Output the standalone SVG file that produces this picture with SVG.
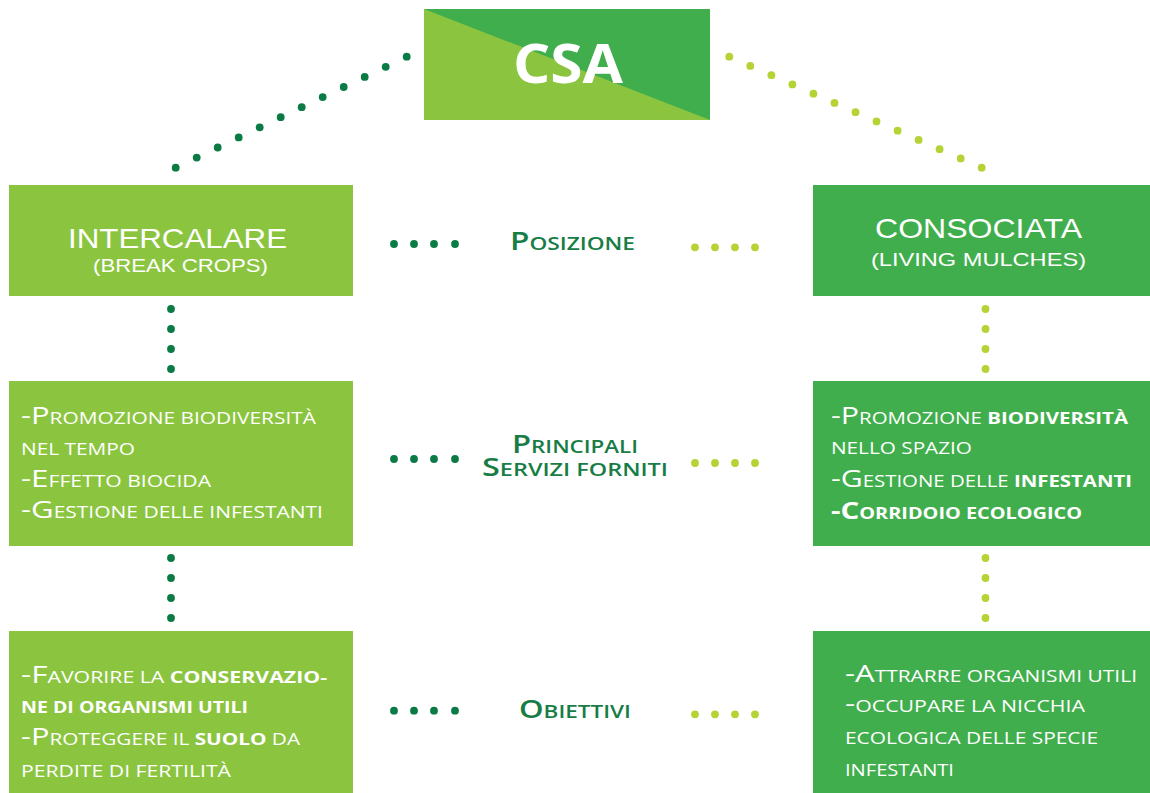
<svg xmlns="http://www.w3.org/2000/svg" width="1150" height="793" viewBox="0 0 1150 793">
<style>
.lg{fill:#8BC540}
.dg{fill:#41AE4D}
.dd{fill:#0B7B45}
.ld{fill:#B5D334}
.t{font-family:"Open Sans","Liberation Sans",sans-serif;fill:#fff}
.hd{font-family:"Liberation Sans","Open Sans",sans-serif;fill:#fff}
.b{font-size:23px}
.s{font-size:15.5px}
.bd{font-weight:bold}
.h1{font-size:28.5px}
.h2{font-size:19px}
.m{font-family:"Open Sans","Liberation Sans",sans-serif;fill:#177D45;font-weight:600}
.mb{font-size:25px}
.ms{font-size:18px}
</style>
<rect width="1150" height="793" fill="#fff"/>
<g id="connectors">
  <g class="dd">
    <circle cx="175.7" cy="167.7" r="3.9"/><circle cx="196.7" cy="157.6" r="3.9"/><circle cx="217.7" cy="147.5" r="3.9"/><circle cx="238.7" cy="137.4" r="3.9"/><circle cx="259.7" cy="127.3" r="3.9"/><circle cx="280.7" cy="117.2" r="3.9"/><circle cx="301.7" cy="107.2" r="3.9"/><circle cx="322.7" cy="97.1" r="3.9"/><circle cx="343.7" cy="87" r="3.9"/><circle cx="364.7" cy="76.9" r="3.9"/><circle cx="385.7" cy="66.8" r="3.9"/><circle cx="406.7" cy="56.7" r="3.9"/>
    <circle cx="171" cy="309" r="3.9"/><circle cx="171" cy="329" r="3.9"/><circle cx="171" cy="349" r="3.9"/><circle cx="171" cy="369" r="3.9"/>
    <circle cx="171" cy="558" r="3.9"/><circle cx="171" cy="578" r="3.9"/><circle cx="171" cy="598" r="3.9"/><circle cx="171" cy="618" r="3.9"/>
    <circle cx="394" cy="244" r="3.9"/><circle cx="414" cy="244" r="3.9"/><circle cx="434" cy="244" r="3.9"/><circle cx="455" cy="244" r="3.9"/>
    <circle cx="394" cy="459" r="3.9"/><circle cx="414" cy="459" r="3.9"/><circle cx="434" cy="459" r="3.9"/><circle cx="455" cy="459" r="3.9"/>
    <circle cx="394" cy="710.7" r="3.9"/><circle cx="414" cy="710.7" r="3.9"/><circle cx="434" cy="710.7" r="3.9"/><circle cx="455" cy="710.7" r="3.9"/>
  </g>
  <g class="ld">
    <circle cx="729.3" cy="56.7" r="3.9"/><circle cx="750.3" cy="65.9" r="3.9"/><circle cx="771.4" cy="75.2" r="3.9"/><circle cx="792.4" cy="84.4" r="3.9"/><circle cx="813.4" cy="93.7" r="3.9"/><circle cx="834.5" cy="102.9" r="3.9"/><circle cx="855.5" cy="112.2" r="3.9"/><circle cx="876.5" cy="121.4" r="3.9"/><circle cx="897.6" cy="130.7" r="3.9"/><circle cx="918.6" cy="139.9" r="3.9"/><circle cx="939.6" cy="149.2" r="3.9"/><circle cx="960.7" cy="158.4" r="3.9"/><circle cx="981.7" cy="167.7" r="3.9"/>
    <circle cx="985.5" cy="309" r="3.9"/><circle cx="985.5" cy="329" r="3.9"/><circle cx="985.5" cy="349" r="3.9"/><circle cx="985.5" cy="369" r="3.9"/>
    <circle cx="985.5" cy="558" r="3.9"/><circle cx="985.5" cy="578" r="3.9"/><circle cx="985.5" cy="598" r="3.9"/><circle cx="985.5" cy="618" r="3.9"/>
    <circle cx="695" cy="247.3" r="3.9"/><circle cx="715" cy="247.3" r="3.9"/><circle cx="735" cy="247.3" r="3.9"/><circle cx="755" cy="247.3" r="3.9"/>
    <circle cx="695" cy="463" r="3.9"/><circle cx="715" cy="463" r="3.9"/><circle cx="735" cy="463" r="3.9"/><circle cx="755" cy="463" r="3.9"/>
    <circle cx="695" cy="714.3" r="3.9"/><circle cx="715" cy="714.3" r="3.9"/><circle cx="735" cy="714.3" r="3.9"/><circle cx="755" cy="714.3" r="3.9"/>
  </g>
</g>
<g id="csa">
  <rect x="424" y="9" width="286" height="111" class="lg"/>
  <polygon points="424,9 710,9 710,120" class="dg"/>
  <text x="513" y="83" class="t bd" font-size="53" textLength="110" lengthAdjust="spacingAndGlyphs">CSA</text>
</g>
<g id="intercalare">
  <rect x="9" y="185" width="344" height="111" class="lg"/>
  <text x="68" y="247.5" class="hd h1" textLength="219" lengthAdjust="spacingAndGlyphs">INTERCALARE</text>
  <text x="93" y="272" class="hd h2" textLength="175" lengthAdjust="spacingAndGlyphs">(BREAK CROPS)</text>
</g>
<g id="consociata">
  <rect x="813" y="185" width="337" height="111" class="dg"/>
  <text x="875" y="238" class="hd h1" textLength="207" lengthAdjust="spacingAndGlyphs">CONSOCIATA</text>
  <text x="871" y="266" class="hd h2" textLength="215" lengthAdjust="spacingAndGlyphs">(LIVING MULCHES)</text>
</g>
<g id="servizi-intercalare">
  <rect x="9" y="381" width="344" height="165" class="lg"/>
  <text x="21" y="424" class="t" textLength="295" lengthAdjust="spacingAndGlyphs"><tspan class="b">-P</tspan><tspan class="s">ROMOZIONE BIODIVERSITÀ</tspan></text>
  <text x="21" y="455" class="t s" textLength="114" lengthAdjust="spacingAndGlyphs">NEL TEMPO</text>
  <text x="21" y="487" class="t" textLength="190" lengthAdjust="spacingAndGlyphs"><tspan class="b">-E</tspan><tspan class="s">FFETTO BIOCIDA</tspan></text>
  <text x="21" y="518" class="t" textLength="302" lengthAdjust="spacingAndGlyphs"><tspan class="b">-G</tspan><tspan class="s">ESTIONE DELLE INFESTANTI</tspan></text>
</g>
<g id="servizi-consociata">
  <rect x="813" y="381" width="337" height="165" class="dg"/>
  <text x="831" y="424" class="t" textLength="297" lengthAdjust="spacingAndGlyphs"><tspan class="b">-P</tspan><tspan class="s">ROMOZIONE </tspan><tspan class="s bd">BIODIVERSITÀ</tspan></text>
  <text x="831" y="454" class="t s" textLength="141" lengthAdjust="spacingAndGlyphs">NELLO SPAZIO</text>
  <text x="831" y="487" class="t" textLength="301" lengthAdjust="spacingAndGlyphs"><tspan class="b">-G</tspan><tspan class="s">ESTIONE DELLE </tspan><tspan class="s bd">INFESTANTI</tspan></text>
  <text x="831" y="519" class="t bd" textLength="251" lengthAdjust="spacingAndGlyphs"><tspan class="b">-C</tspan><tspan class="s">ORRIDOIO ECOLOGICO</tspan></text>
</g>
<g id="obiettivi-intercalare">
  <rect x="9" y="631" width="344" height="162" class="lg"/>
  <text x="21" y="683" class="t" textLength="306" lengthAdjust="spacingAndGlyphs"><tspan class="b">-F</tspan><tspan class="s">AVORIRE LA </tspan><tspan class="s bd">CONSERVAZIO-</tspan></text>
  <text x="21" y="713" class="t s bd" textLength="227" lengthAdjust="spacingAndGlyphs">NE DI ORGANISMI UTILI</text>
  <text x="21" y="745" class="t" textLength="279" lengthAdjust="spacingAndGlyphs"><tspan class="b">-P</tspan><tspan class="s">ROTEGGERE IL </tspan><tspan class="s bd">SUOLO</tspan><tspan class="s"> DA</tspan></text>
  <text x="21" y="777" class="t s" textLength="210" lengthAdjust="spacingAndGlyphs">PERDITE DI FERTILITÀ</text>
</g>
<g id="obiettivi-consociata">
  <rect x="813" y="631" width="337" height="162" class="dg"/>
  <text x="845" y="682" class="t" textLength="292" lengthAdjust="spacingAndGlyphs"><tspan class="b">-A</tspan><tspan class="s">TTRARRE ORGANISMI UTILI</tspan></text>
  <text x="845" y="712" class="t" textLength="240" lengthAdjust="spacingAndGlyphs"><tspan class="b">-</tspan><tspan class="s">OCCUPARE LA NICCHIA</tspan></text>
  <text x="845" y="744" class="t s" textLength="253" lengthAdjust="spacingAndGlyphs">ECOLOGICA DELLE SPECIE</text>
  <text x="845" y="776" class="t s" textLength="109" lengthAdjust="spacingAndGlyphs">INFESTANTI</text>
</g>
<g id="label-posizione">
  <text x="510" y="250" class="m" textLength="125" lengthAdjust="spacingAndGlyphs"><tspan class="mb">P</tspan><tspan class="ms">OSIZIONE</tspan></text>
</g>
<g id="label-servizi">
  <text x="512" y="453" class="m" textLength="126" lengthAdjust="spacingAndGlyphs"><tspan class="mb">P</tspan><tspan class="ms">RINCIPALI</tspan></text>
  <text x="482" y="476" class="m" textLength="186" lengthAdjust="spacingAndGlyphs"><tspan class="mb">S</tspan><tspan class="ms">ERVIZI FORNITI</tspan></text>
</g>
<g id="label-obiettivi">
  <text x="519" y="718" class="m" textLength="112" lengthAdjust="spacingAndGlyphs"><tspan class="mb">O</tspan><tspan class="ms">BIETTIVI</tspan></text>
</g>
</svg>
